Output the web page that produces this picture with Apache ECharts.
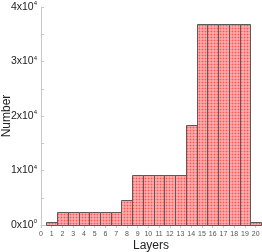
<!DOCTYPE html>
<html><head><meta charset="utf-8">
<script src="https://cdn.jsdelivr.net/npm/echarts@6/dist/echarts.min.js"></script>
<style>html,body{margin:0;padding:0;background:#fff}#c{width:262px;height:252px}</style>
</head><body><div id="c"></div>
<script>
const layers = [1,2,3,4,5,6,7,8,9,10,11,12,13,14,15,16,17,18,19,20];
const counts = [500,2300,2300,2300,2300,2300,2300,4600,9200,9200,9200,9200,9200,18400,36800,36800,36800,36800,36800,500];
const xTicks = [0,1,2,3,4,5,6,7,8,9,10,11,12,13,14,15,16,17,18,19,20];
const yTicks = [0,10000,20000,30000,40000];

const pc = document.createElement('canvas');
pc.width = 3; pc.height = 3;
const g = pc.getContext('2d');
g.fillStyle = '#ffaaaa'; g.fillRect(0,0,3,3);
g.fillStyle = '#ff8e8e'; g.fillRect(0,1,3,1); g.fillRect(1,0,1,3);
g.fillStyle = '#ff5555'; g.fillRect(1,1,1,1);
const pattern = {image: pc, repeat: 'repeat'};

const font = 'Liberation Sans, Arial, sans-serif';
const chart = echarts.init(document.getElementById('c'));
chart.setOption({
  animation: false,
  grid: {left: 41, right: 1, top: 7, bottom: 27, containLabel: false, outerBoundsMode: 'none'},
  xAxis: {
    type: 'value', min: 0, max: 20.5, interval: 1,
    name: 'Layers', nameLocation: 'middle', nameGap: 15, nameMoveOverlap: false,
    nameTextStyle: {fontFamily: font, fontSize: 12, color: '#222'},
    axisLine: {show: true, lineStyle: {color: '#c8c8c8', width: 1}},
    axisTick: {show: true, length: 3, customValues: xTicks, lineStyle: {color: '#c8c8c8'}},
    axisLabel: {customValues: xTicks, fontFamily: font, fontSize: 7, color: '#555', margin: 6},
    splitLine: {show: false}
  },
  yAxis: {
    type: 'value', min: 0, max: 40000, interval: 10000,
    name: 'Number', nameLocation: 'middle', nameGap: 28, nameMoveOverlap: false,
    nameTextStyle: {fontFamily: font, fontSize: 12, color: '#222'},
    axisLine: {show: true, lineStyle: {color: '#c8c8c8', width: 1}},
    axisTick: {show: true, inside: true, length: 3, lineStyle: {color: '#c8c8c8'}},
    minorTick: {show: true, splitNumber: 2, length: 3, lineStyle: {color: '#c8c8c8'}},
    axisLabel: {
      fontFamily: font, margin: 4, color: '#222',
      formatter: v => '{m|' + (v/10000) + 'x10}{s|' + (v === 0 ? 0 : 4) + '}',
      rich: {
        m: {fontFamily: font, fontSize: 10.5, color: '#222'},
        s: {fontFamily: font, fontSize: 6, color: '#222', verticalAlign: 'top', padding: [0,0,7,0]}
      }
    },
    splitLine: {show: false}
  },
  series: [{
    type: 'custom',
    data: layers.map((l, i) => [l, counts[i]]),
    renderItem: (params, api) => {
      const x = api.value(0), v = api.value(1);
      const p0 = api.coord([x - 0.5, v]);
      const p1 = api.coord([x + 0.5, 0]);
      return {
        type: 'rect',
        shape: {x: Math.round(p0[0]) + 0.5, y: Math.round(p0[1]) + 0.5, width: Math.round(p1[0]) - Math.round(p0[0]), height: Math.round(p1[1]) - Math.round(p0[1])},
        style: {fill: pattern, stroke: '#5a5a5a', lineWidth: 1}
      };
    }
  }]
});
</script></body></html>
